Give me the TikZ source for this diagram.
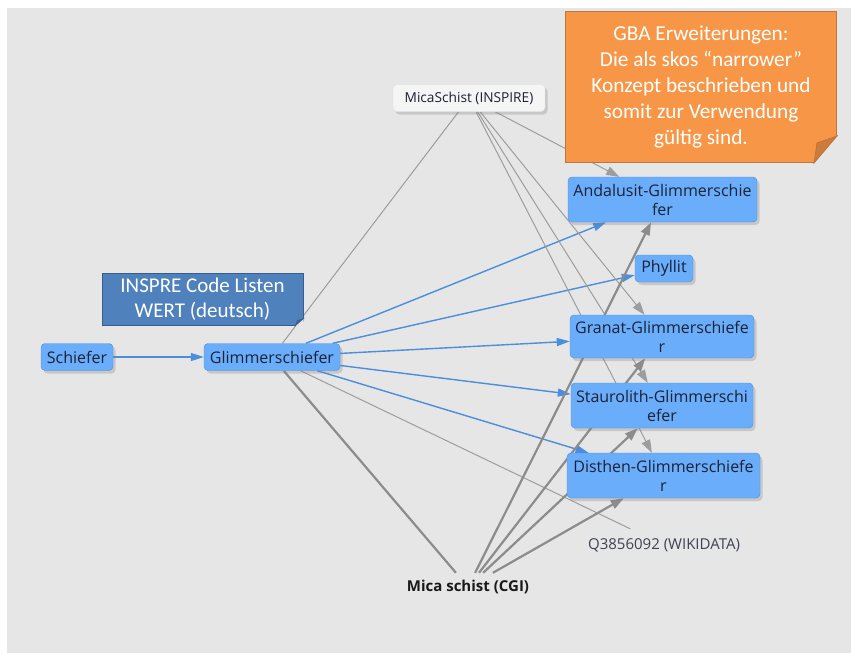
\documentclass[tikz,border=0pt]{standalone}
\usepackage{fontspec}
\setsansfont{Open Sans}
\newfontfamily\notefont{Carlito}
\usetikzlibrary{arrows.meta, shadows}

\definecolor{paper}{HTML}{E6E6E6}
\definecolor{conceptfill}{HTML}{6AADFB}
\definecolor{conceptline}{HTML}{4A8FDC}
\definecolor{concepttext}{HTML}{1B2235}
\definecolor{narrowblue}{HTML}{4A8EDC}
\definecolor{matchgray}{HTML}{8C8C8C}
\definecolor{noteorange}{HTML}{F79646}
\definecolor{noteorangeline}{HTML}{C0763A}
\definecolor{notefold}{HTML}{CB7B3B}
\definecolor{noteblue}{HTML}{4F81BD}
\definecolor{noteblueline}{HTML}{385D8A}
\definecolor{notebluefold}{HTML}{3E6699}

\pgfdeclarelayer{bg}
\pgfdeclarelayer{edges}
\pgfsetlayers{bg,edges,main}

\begin{document}
\begin{tikzpicture}[x=1pt, y=-1pt,
concept/.style={rectangle, rounded corners=4pt, draw=conceptline, fill=conceptfill, text=concepttext, align=center, inner sep=0pt, minimum height=27pt, font=\sffamily\fontsize{16}{19}\selectfont, drop shadow={opacity=0.3, shadow xshift=2.5pt, shadow yshift=-3pt}},
extconcept/.style={concept, draw=black!12, fill=black!4, font=\sffamily\fontsize{13.7}{16}\selectfont},
narrow/.style={draw=narrowblue, line width=1.4pt, -{Triangle[length=13pt, width=8pt]}},
match/.style={draw=matchgray!85, line width=1pt},
matcharrow/.style={match, -{Triangle[length=13pt, width=9pt]}},
cgiline/.style={draw=matchgray, line width=2.2pt},
cgiarrow/.style={cgiline, -{Triangle[length=13pt, width=9pt]}},
note/.style={rectangle, inner sep=0pt, align=center, text=white, line width=1pt}]
\tikzstyle{plain}=[text=concepttext!85, inner sep=0pt, font=\sffamily\fontsize{15}{18}\selectfont]

%Frame
\begin{pgfonlayer}{bg}
\fill[white] (0,0) rectangle (851,653);
\fill[paper] (7,8) rectangle (851,653);
\end{pgfonlayer}

%Concepts
\node[concept, minimum width=72pt] (schiefer) at (77,357) {Schiefer};
\node[concept, minimum width=136pt] (glimmer) at (272,357) {Glimmerschiefer};
\node[extconcept, minimum width=152pt] (inspire) at (469,98) {MicaSchist (INSPIRE)};
\node[concept, minimum width=189pt, minimum height=45pt] (anda) at (662.5,199.5) {Andalusit-Glimmerschie\\fer};
\node[concept, minimum width=58pt] (phyllit) at (664,268.5) {Phyllit};
\node[concept, minimum width=184pt, minimum height=43pt] (granat) at (662,336.5) {Granat-Glimmerschiefe\\r};
\node[concept, minimum width=182pt, minimum height=45pt] (stauro) at (662,405.5) {Staurolith-Glimmerschi\\efer};
\node[concept, minimum width=193pt, minimum height=45pt] (disthen) at (663.5,475.5) {Disthen-Glimmerschiefe\\r};
\node[plain, minimum width=170pt, minimum height=32pt] (wiki) at (664,545) {Q3856092 (WIKIDATA)};
\node[plain, minimum width=130pt, minimum height=28pt, font=\sffamily\bfseries\fontsize{15}{18}\selectfont, text=black!90] (cgi) at (468,587) {Mica schist (CGI)};

%Links
\begin{pgfonlayer}{edges}
\draw[narrow] (schiefer) -- (glimmer);
\foreach \t in {anda, phyllit, granat, stauro, disthen}
  \draw[narrow] (glimmer) -- (\t);
\draw[match] (inspire) -- (glimmer);
\foreach \t in {anda, granat, stauro, disthen}
  \draw[matcharrow] (inspire) -- (\t);
\draw[match] (glimmer) -- (wiki);
\draw[cgiline] (glimmer) -- (cgi);
\foreach \t in {anda, granat, stauro, disthen}
  \draw[cgiarrow] (cgi) -- (\t);
\end{pgfonlayer}

%Notes
\node[note, fill=noteblue, draw=noteblueline, minimum width=201pt, minimum height=52pt, font=\notefont\fontsize{21}{25}\selectfont] (inspre) at (202.5,299) {INSPRE Code Listen\\WERT (deutsch)};
\fill[paper] ([yshift=7pt]inspre.south east) -- ([xshift=-8pt, yshift=-0.6pt]inspre.south east) -- ([xshift=0.6pt, yshift=-0.6pt]inspre.south east) -- cycle;
\filldraw[fill=notebluefold, draw=noteblueline, line width=0.6pt] ([yshift=7pt]inspre.south east) -- ([xshift=-8pt]inspre.south east) -- ([xshift=-6pt, yshift=5pt]inspre.south east) -- cycle;

\node[note, fill=noteorange, draw=noteorangeline, minimum width=271pt, minimum height=151pt, font=\notefont\fontsize{21.3}{26}\selectfont] (gba) at (701,87) {GBA Erweiterungen:\\Die als skos “narrower”\\Konzept beschrieben und\\somit zur Verwendung\\gültig sind.};
\fill[paper] ([yshift=27pt]gba.south east) -- ([xshift=-23pt, yshift=-0.6pt]gba.south east) -- ([xshift=0.6pt, yshift=-0.6pt]gba.south east) -- cycle;
\filldraw[fill=notefold, draw=noteorangeline, line width=0.8pt] ([yshift=27pt]gba.south east) -- ([xshift=-23pt]gba.south east) -- ([xshift=-20pt, yshift=20pt]gba.south east) -- cycle;
\end{tikzpicture}
\end{document}
